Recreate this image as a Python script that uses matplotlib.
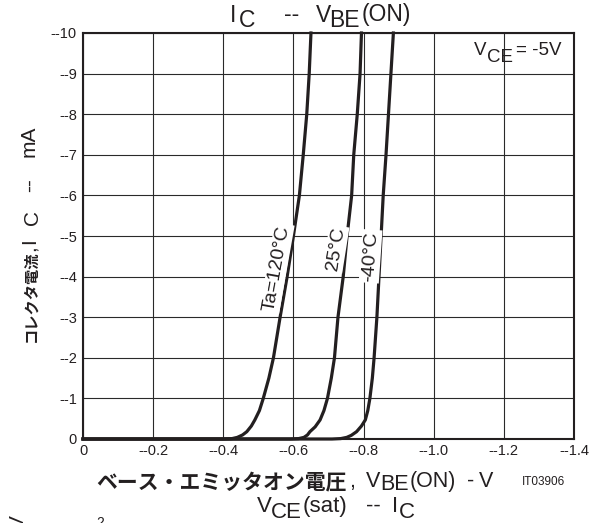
import matplotlib
matplotlib.use("Agg")
import matplotlib.pyplot as plt

W, H = 589, 523
LAT = ["Liberation Sans", "DejaVu Sans"]
CJK = ["Noto Sans CJK JP", "DejaVu Sans"]
INK = "#231f20"

# ---- data (V_BE in volts, I_C in mA; PNP so both negative) ----
x_ticks = [0, -0.2, -0.4, -0.6, -0.8, -1.0, -1.2, -1.4]
x_tick_labels = ["0", "--0.2", "--0.4", "--0.6", "--0.8", "--1.0", "--1.2", "--1.4"]
y_ticks = [0, -1, -2, -3, -4, -5, -6, -7, -8, -9, -10]
y_tick_labels = ["0", "--1", "--2", "--3", "--4", "--5", "--6", "--7", "--8", "--9", "--10"]

vbe_120 = [0, -0.40, -0.425, -0.440, -0.455, -0.467, -0.480, -0.490, -0.503, -0.514, -0.530, -0.543, -0.562, -0.582, -0.600, -0.617, -0.628, -0.638, -0.645, -0.650]
ic_120  = [0, 0, -0.01, -0.04, -0.10, -0.18, -0.32, -0.47, -0.70, -1.0, -1.5, -2.0, -3.0, -4.0, -5.0, -6.0, -7.0, -8.0, -9.0, -10.0]

vbe_25 = [0, -0.59, -0.615, -0.630, -0.640, -0.647, -0.662, -0.676, -0.687, -0.697, -0.708, -0.717, -0.727, -0.742, -0.753, -0.766, -0.772, -0.782, -0.790, -0.794]
ic_25  = [0, 0, -0.01, -0.04, -0.10, -0.18, -0.30, -0.47, -0.70, -1.0, -1.5, -2.0, -3.0, -4.0, -5.0, -6.0, -7.0, -8.0, -9.0, -10.0]

vbe_m40 = [0, -0.71, -0.735, -0.752, -0.765, -0.780, -0.794, -0.805, -0.812, -0.818, -0.825, -0.830, -0.838, -0.844, -0.850, -0.856, -0.864, -0.871, -0.878, -0.885]
ic_m40  = [0, 0, -0.01, -0.04, -0.09, -0.18, -0.32, -0.47, -0.70, -1.0, -1.5, -2.0, -3.0, -4.0, -5.0, -6.0, -7.0, -8.0, -9.0, -10.0]

curve_labels = ["Ta=120°C", "25°C", "-40°C"]
label_x = [-0.553, -0.721, -0.820]
label_y = [-4.21, -4.68, -4.50]
label_rot = [80, 81, 86]

fig = plt.figure(figsize=(W / 100, H / 100), dpi=100)
ax = fig.add_axes([83 / W, (H - 439) / H, 491 / W, 406 / H])

ax.set_xlim(0, -1.4)
ax.set_ylim(0, -10)
ax.set_xticks(x_ticks)
ax.set_xticklabels(x_tick_labels)
ax.set_yticks(y_ticks)
ax.set_yticklabels(y_tick_labels)
ax.tick_params(length=0, labelsize=10.5, colors=INK)
ax.tick_params(axis="x", pad=3.5)
ax.tick_params(axis="y", pad=4.5)
for lab in ax.get_xticklabels() + ax.get_yticklabels():
    lab.set_family(LAT)
ax.grid(True, color="#2a2a2a", lw=0.8)
ax.set_axisbelow(True)
for s in ax.spines.values():
    s.set_linewidth(1.5)
    s.set_color(INK)

for xs, ys in [(vbe_120, ic_120), (vbe_25, ic_25), (vbe_m40, ic_m40)]:
    ax.plot(xs, ys, color=INK, lw=2.3, solid_joinstyle="round", clip_on=False, zorder=3)

for t, x, y, r in zip(curve_labels, label_x, label_y, label_rot):
    ax.text(x, y, t, rotation=r, ha="center", va="center", fontsize=14, family=LAT, color=INK,
            rotation_mode="anchor", zorder=4,
            bbox=dict(boxstyle="square,pad=0.08", fc="white", ec="none"))


def put(s, x, y, size, weight="normal", fam=LAT, rot=0, ha="left", va="baseline"):
    fig.text(x / W, 1 - y / H, s, fontsize=size, weight=weight, family=fam, color=INK,
             rotation=rot, rotation_mode="anchor", ha=ha, va=va)

# top title
TS = 16.5
put("I", 229.5, 21.5, TS)
put("C", 238.5, 27, TS)
put("--", 284, 21.5, TS)
put("V", 315.5, 21.5, TS)
put("BE", 329.5, 27, TS)
put("(ON)", 361.5, 21.5, TS)

# V_CE annotation
put("V", 474, 55, 13.5)
put("CE", 487, 62, 13.5)
put("= -5V", 516, 55, 13.5)

# x label
XS = 15.5
put("ベース・エミッタオン電圧", 96, 489, 15, weight="bold", fam=CJK)
put(",", 349.5, 487, XS)
put("V", 365.5, 487, XS)
put("BE", 380.5, 490.5, XS)
put("(ON)", 410, 487, XS)
put("-", 467.5, 487, XS)
put("V", 479, 487, XS)
put("IT03906", 522, 485, 8.5)

# y label (rotated)
put("コレクタ電流", 35.5, 342, 11, weight="bold", fam=CJK, rot=90)
put(",", 35, 251, 15, rot=90)
put("I", 35, 244, 15, rot=90)
put("C", 38, 225, 15, rot=90)
put("--", 35, 192, 15, rot=90)
put("mA", 35, 157, 15, rot=90)

# next chart's title (cropped below)
BS = 16
put("V", 256.5, 512, BS)
put("CE", 271, 518, BS)
put("(sat)", 303, 512, BS)
put("--", 366, 512, BS)
put("I", 391.5, 512, BS)
put("C", 399, 518, BS)
put("V", 18, 522, 15, rot=90, ha="center", va="center")
put("2", 100, 516, 10, va="top", ha="center")

fig.savefig("out.png", dpi=100)
